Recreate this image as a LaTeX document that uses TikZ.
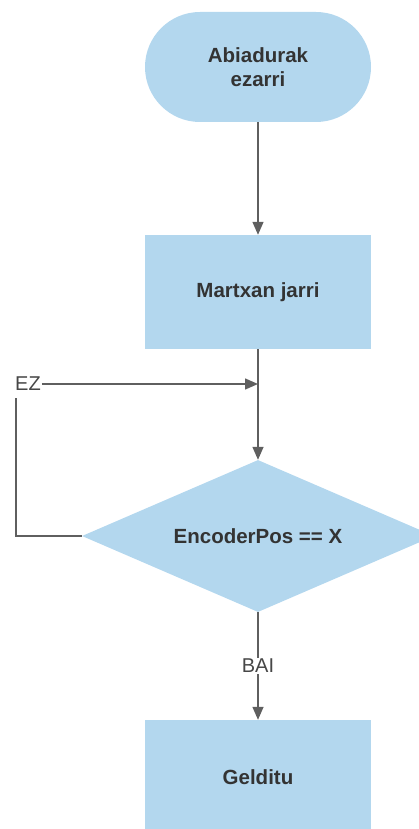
\documentclass[tikz,border=0pt]{standalone}
\usepackage{fontspec}
\setmainfont{Liberation Sans}
\usetikzlibrary{shapes.geometric,arrows.meta}
\definecolor{boxblue}{HTML}{B3D7EE}
\definecolor{linegray}{HTML}{5F5F5F}
\definecolor{textgray}{HTML}{333333}
\tikzset{
  flow/.style={draw=linegray,line width=1.4pt,-{Triangle[length=13pt,width=11pt]}},
  plain/.style={draw=linegray,line width=1.4pt},
  stepbox/.style={rectangle,fill=boxblue,minimum width=226pt,minimum height=114pt,
    text=textgray,font=\fontsize{20.5}{24}\selectfont\bfseries,align=center},
  lbl/.style={text=textgray!90,font=\fontsize{20}{24}\selectfont,inner sep=1pt}
}
\begin{document}
\begin{tikzpicture}
    [x=1pt,y=-1pt]
    \useasboundingbox (0,0) rectangle (419,829);
    \node (start) at (258, 67) [stepbox,rounded corners=55pt,minimum height=110pt] {Abiadurak\\ezarri};
    \node (go) at (258, 292) [stepbox] {Martxan jarri};
    \node (check) at (258, 536) [diamond,aspect=2.316,fill=boxblue,inner sep=0pt,minimum width=352pt,minimum height=152pt,
      text=textgray,font=\fontsize{20.5}{24}\selectfont\bfseries] {EncoderPos == X};
    \node (stop) at (258, 777) [stepbox] {Gelditu};
    \node (ez) at (28, 384) [lbl] {EZ};
    \coordinate (join) at (258, 384);
    \coordinate (loopcorner) at (16, 536);
    \coordinate (loopend) at (16, 398);
    \draw [flow] (start) to (go);
    \draw [plain] (go) to (join);
    \draw [flow] (join) to (check.north);
    \draw [flow] (ez) to (join);
    \draw [plain] (check.west) -- (loopcorner) -- (loopend);
    \draw [flow] (check) to node [lbl,fill=white] {BAI} (stop);
  \end{tikzpicture}
\end{document}
